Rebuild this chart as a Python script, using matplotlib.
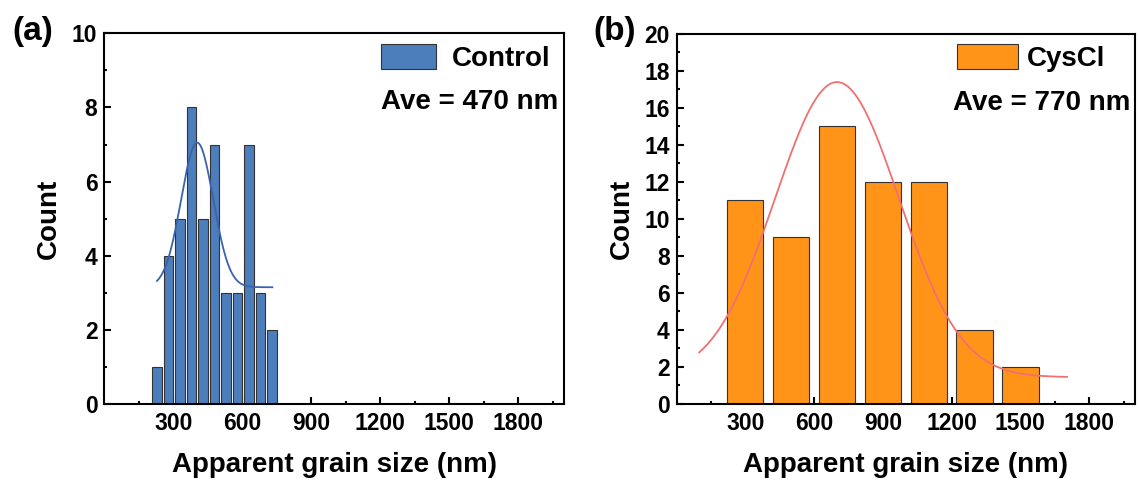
import numpy as np
import matplotlib
matplotlib.use('Agg')
import matplotlib.pyplot as plt
from matplotlib.ticker import MultipleLocator

plt.rcParams['font.family'] = ['Liberation Sans', 'DejaVu Sans']
plt.rcParams['font.weight'] = 'bold'
plt.rcParams['axes.labelweight'] = 'bold'

# Control sample histogram
ctrl_centers = [230, 280, 330, 380, 430, 480, 530, 580, 630, 680, 730]
ctrl_counts = [1, 4, 5, 8, 5, 7, 3, 3, 7, 3, 2]
# Gaussian fit parameters: y0, A, xc, sigma, x range
ctrl_fit = (3.15, 3.9, 404, 70, 229, 731)

# CysCl sample histogram
cys_centers = [300, 500, 700, 900, 1100, 1300, 1500]
cys_counts = [11, 9, 15, 12, 12, 4, 2]
cys_fit = (1.45, 15.95, 700, 270, 99, 1703)

xticks = [300, 600, 900, 1200, 1500, 1800]
xminor = [150, 450, 750, 1050, 1350, 1650, 1950]


def gauss_curve(p):
    y0, A, xc, s, x0, x1 = p
    xx = np.linspace(x0, x1, 300)
    return xx, y0 + A * np.exp(-(xx - xc) ** 2 / (2 * s ** 2))


def style_axes(ax, ymax):
    ax.set_xlim(0, 2000)
    ax.set_ylim(0, ymax)
    ax.set_xticks(xticks)
    ax.set_xticks(xminor, minor=True)
    ax.yaxis.set_major_locator(MultipleLocator(2))
    ax.yaxis.set_minor_locator(MultipleLocator(1))
    ax.tick_params(which='both', direction='in', top=False, right=False,
                   width=1.5, labelsize=16.5)
    ax.tick_params(which='major', length=5)
    ax.tick_params(which='minor', length=2.5)
    ax.tick_params(axis='x', pad=6)
    ax.tick_params(axis='y', pad=5)
    for sp in ax.spines.values():
        sp.set_linewidth(1.5)
    ax.set_xlabel('Apparent grain size (nm)', fontsize=20, labelpad=12)
    ax.set_ylabel('Count', fontsize=20, labelpad=7)


fig = plt.figure(figsize=(11.39, 4.84), dpi=100)
ax1 = fig.add_axes([0.0916, 0.1653, 0.4036, 0.7659])
ax2 = fig.add_axes([0.594, 0.1653, 0.4025, 0.7645])

# (a) control
ax1.bar(ctrl_centers, ctrl_counts, width=41, color='#4C7EBB',
        edgecolor='#333333', linewidth=0.8, label='Control', zorder=2)
cx, cy = gauss_curve(ctrl_fit)
ax1.plot(cx, cy, color='#3A63AE', lw=1.3, zorder=3)
style_axes(ax1, 10)
ax1.legend(loc='center right', bbox_to_anchor=(0.97, 0.934), frameon=False,
           fontsize=20, borderpad=0, borderaxespad=0, handlelength=1.98,
           handleheight=1.0, handletextpad=0.58)
ax1.text(0.987, 0.814, 'Ave = 470 nm', transform=ax1.transAxes,
         ha='right', va='center', fontsize=20)

# (b) CysCl
ax2.bar(cys_centers, cys_counts, width=158, color='#FF9418',
        edgecolor='#333333', linewidth=0.8, label='CysCl', zorder=2)
rx, ry = gauss_curve(cys_fit)
ax2.plot(rx, ry, color='#F07070', lw=1.3, zorder=3)
style_axes(ax2, 20)
ax2.legend(loc='center right', bbox_to_anchor=(0.935, 0.934), frameon=False,
           fontsize=20, borderpad=0, borderaxespad=0, handlelength=2.2,
           handleheight=1.0, handletextpad=0.33)
ax2.text(0.989, 0.8135, 'Ave = 770 nm', transform=ax2.transAxes,
         ha='right', va='center', fontsize=20)

fig.text(0.0105, 0.935, '(a)', fontsize=24, ha='left', va='center')
fig.text(0.5206, 0.935, '(b)', fontsize=24, ha='left', va='center')

fig.savefig('out.png', dpi=100)
